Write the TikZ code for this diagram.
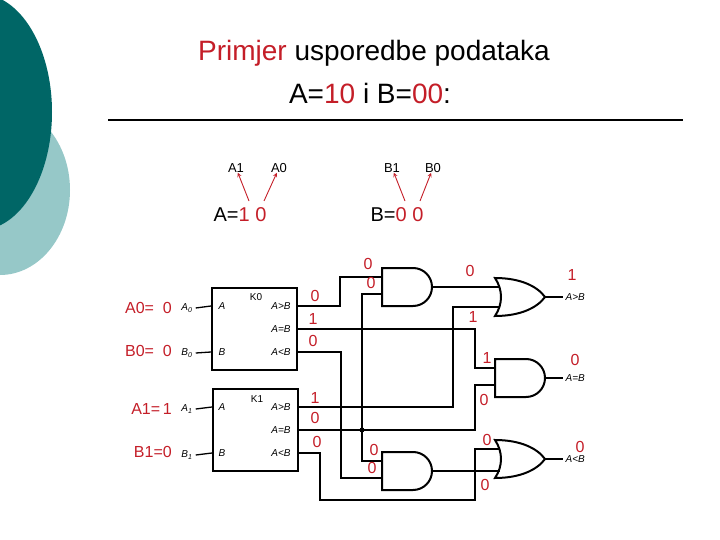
\documentclass[tikz,border=0pt]{standalone}
\usepackage{fontspec}
\setmainfont{Liberation Sans}
\usepackage{tikz}
\usetikzlibrary{positioning}
\definecolor{myred}{RGB}{196,30,40}
\definecolor{darkteal}{RGB}{0,102,102}
\definecolor{lightteal}{RGB}{150,200,200}

\tikzset{
  gate/.style={draw, line width=2pt, fill=white},
  wire/.style={draw, line width=1.3pt},
  cmp/.style={draw, line width=2pt, minimum width=85pt, minimum height=82pt, inner sep=0pt},
  val/.style={text=myred, font=\fontsize{16}{16}\selectfont, inner sep=0pt},
  pin/.style={font=\fontsize{10}{10}\selectfont\itshape, inner sep=0pt},
  bit/.style={font=\fontsize{13}{13}\selectfont, inner sep=0pt},
  ptr/.style={->, >=stealth, myred, line width=0.9pt}
}

% and gate: name, x, y (top left, y measured downwards)
\newcommand\andgate[3]{%
  \draw[gate] (#2,-#3) -- ++(31,0) arc[start angle=90, end angle=-90, radius=19] -- ++(-31,0) -- cycle;
  \coordinate (#1-in1) at (#2,-#3-9);
  \coordinate (#1-in2) at (#2,-#3-26);
  \coordinate (#1-out) at (#2+50,-#3-19);
}
% or gate
\newcommand\orgate[3]{%
  \draw[gate] (#2,-#3) .. controls (#2+25,-#3) and (#2+42,-#3-8) .. (#2+50,-#3-19)
     .. controls (#2+42,-#3-30) and (#2+25,-#3-38) .. (#2,-#3-38)
     .. controls (#2+8,-#3-26) and (#2+8,-#3-12) .. cycle;
  \coordinate (#1-in1) at (#2+5,-#3-9);
  \coordinate (#1-in2) at (#2+5,-#3-29);
  \coordinate (#1-out) at (#2+50,-#3-19);
}

\begin{document}
\begin{tikzpicture}[x=1pt, y=1pt]
  \useasboundingbox (0,0) rectangle (720,-540);

  % corner decoration
  \fill[lightteal] (0,-190) ellipse [x radius=70, y radius=85];
  \fill[darkteal] (-20,-112) ellipse [x radius=72, y radius=118];

  % title
  \node (t1) at (374,-53) {\fontsize{28}{28}\selectfont\textcolor{myred}{Primjer} usporedbe podataka};
  \node (t2) at (370,-93) {\fontsize{28}{28}\selectfont A=\textcolor{myred}{10} i B=\textcolor{myred}{00}:};
  \draw[line width=1.5pt] (108,-120) -- (683,-120);

  % bit names
  \node[bit] (a1) at (236,-168) {A1};
  \node[bit] (a0) at (279,-168) {A0};
  \node[bit] (b1) at (392,-168) {B1};
  \node[bit] (b0) at (433,-168) {B0};
  \node[font=\fontsize{20}{20}\selectfont, inner sep=0pt] (aval) at (240,-215) {A=\textcolor{myred}{1 0}};
  \node[font=\fontsize{20}{20}\selectfont, inner sep=0pt] (bval) at (397,-215) {B=\textcolor{myred}{0 0}};
  \draw[ptr] (249,-201) -- (a1);
  \draw[ptr] (264,-201) -- (a0);
  \draw[ptr] (405,-201) -- (b1);
  \draw[ptr] (420,-201) -- (b0);

  % comparators
  \node[cmp] (k0) at (254.5,-328.5) {};
  \node[cmp] (k1) at (255.5,-430) {};
  \node[pin, font=\fontsize{10}{10}\selectfont] (k0n) at (256,-297) {K0};
  \node[pin, font=\fontsize{10}{10}\selectfont] (k1n) at (257,-399) {K1};
  \foreach \k/\y in {k0/306, k1/407} {
    \node[pin] at (222,-\y) {A};
    \node[pin] at (222,-\y-46) {B};
    \node[pin] at (281,-\y) {A>B};
    \node[pin] at (281,-\y-23) {A=B};
    \node[pin] at (281,-\y-46) {A<B};
  }

  % inputs
  \node[val, anchor=east] (ia0) at (172,-308) {A0=\ \ 0};
  \node[val, anchor=east] (ib0) at (172,-351) {B0=\ \ 0};
  \node[val, anchor=east] (ia1) at (172,-409) {A1=\,1};
  \node[val, anchor=east] (ib1) at (172,-452) {B1=0};
  \node[pin] (pa0) at (187,-308) {A\textsubscript{0}};
  \node[pin] (pb0) at (187,-353) {B\textsubscript{0}};
  \node[pin] (pa1) at (187,-409) {A\textsubscript{1}};
  \node[pin] (pb1) at (187,-455) {B\textsubscript{1}};
  \draw[wire] (pa0.east) ++(3,0) -- (k0.west |- 0,-306);
  \draw[wire] (pb0.east) ++(3,0) -- (k0.west |- 0,-352);
  \draw[wire] (pa1.east) ++(3,0) -- (k1.west |- 0,-407);
  \draw[wire] (pb1.east) ++(3,0) -- (k1.west |- 0,-453);

  % gates
  \andgate{ag}{382}{268}
  \orgate{og}{495}{278}
  \andgate{ae}{495}{359}
  \andgate{al}{382}{452}
  \orgate{ol}{495}{440}

  % wiring
  \draw[wire] (k0.east |- 0,-306) -- (340,-306) |- (ag-in1);
  \draw[wire] (k0.east |- 0,-329) -- (475,-329) |- (ae-in1);
  \draw[wire] (k0.east |- 0,-352) -- (341,-352) |- (al-in2);
  \draw[wire] (k1.east |- 0,-407) -- (453,-407) |- (og-in2);
  \draw[wire] (k1.east |- 0,-430) -- (475,-430) |- (ae-in2);
  \draw[wire] (k1.east |- 0,-453) -- (320,-453) -- (320,-500) -- (475,-500) |- (ol-in1);
  \draw[wire] (ag-in2) -| (362,-380) |- (al-in1);
  \fill (362,-430) circle (2.5);
  \draw[wire] (ag-out) -- (ag-out -| og-in1);
  \draw[wire] (al-out) -- (al-out -| ol-in2);
  \draw[wire] (og-out) -- ++(18,0) node[pin, anchor=west, right=2pt] (gt) {A>B};
  \draw[wire] (ae-out) -- ++(18,0) node[pin, anchor=west, right=2pt] (eq) {A=B};
  \draw[wire] (ol-out) -- ++(18,0) node[pin, anchor=west, right=2pt] (lt) {A<B};

  % values
  \node[val] at (315,-296) {0};
  \node[val] at (313,-319) {1};
  \node[val] at (313,-341) {0};
  \node[val] at (315,-398) {1};
  \node[val] at (315,-418) {0};
  \node[val] at (317,-442) {0};
  \node[val] at (368,-264) {0};
  \node[val] at (371,-283) {0};
  \node[val] at (470,-271) {0};
  \node[val] at (473,-317) {1};
  \node[val] at (572,-275) {1};
  \node[val] at (487,-358) {1};
  \node[val] at (484,-400) {0};
  \node[val] at (575,-360) {0};
  \node[val] at (374,-450) {0};
  \node[val] at (372,-468) {0};
  \node[val] at (487,-440) {0};
  \node[val] at (485,-485) {0};
  \node[val] at (580,-447) {0};
\end{tikzpicture}
\end{document}
